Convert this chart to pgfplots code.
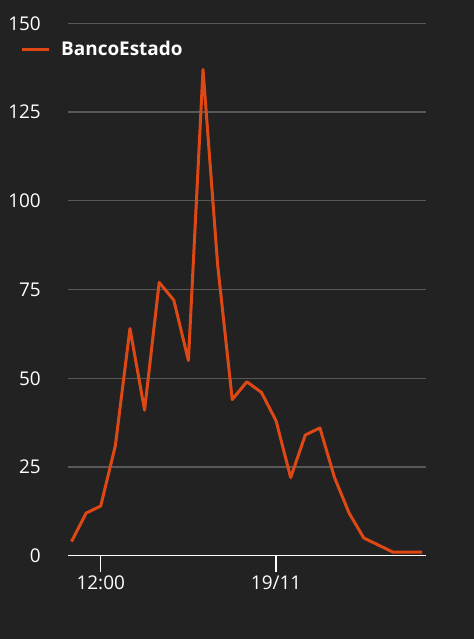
\documentclass[border=0pt]{standalone}
\usepackage{fontspec}
\setmainfont{Open Sans}
\usepackage{pgfplots}
\pgfplotsset{compat=1.18}

\definecolor{bgdark}{HTML}{222222}
\definecolor{gridgray}{HTML}{585858}
\definecolor{lineorange}{HTML}{DD4814}

\begin{document}
\begin{tikzpicture}
\fill[bgdark] (0bp,0bp) rectangle (474bp,639bp);
\useasboundingbox (0bp,0bp) rectangle (474bp,639bp);
\begin{axis}[
    at={(68.3bp,83.3bp)}, anchor=south west,
    scale only axis,
    width=357.4bp, height=532.4bp,
    xmin=-0.22, xmax=24.24,
    ymin=0, ymax=150,
    ytick={0,25,50,75,100,125,150},
    xtick={2,14},
    xticklabels={12:00,19/11},
    axis x line*=bottom,
    axis y line*=left,
    x axis line style={white, line width=1.6bp, -},
    y axis line style={draw=none},
    ymajorgrids,
    grid style={gridgray, line width=1.3bp},
    tick align=outside,
    major tick length=16bp,
    xtick style={white, line width=1.3bp},
    ytick style={draw=none},
    tick label style={font=\fontsize{19}{22}\selectfont, text=white},
    /pgf/number format/assume math mode=true,
    yticklabel style={anchor=east, xshift=-8bp},
    xticklabel style={anchor=north, yshift=-1bp},
    legend style={at={(axis description cs:0,1)}, anchor=west,
        xshift=-48.3bp, yshift=-26bp, draw=none, fill=none,
        inner sep=0pt, nodes={inner sep=0pt},
        font=\bfseries\fontsize{19}{22}\selectfont, text=white,
        legend cell align=left,
        /tikz/every odd column/.append style={column sep=11bp}},
    legend image code/.code={\draw[#1] (0bp,0bp) -- (27bp,0bp);},
    clip=false,
]
\addplot[lineorange, line width=3bp, line join=round] coordinates {
    (0,4) (1,12) (2,14) (3,31) (4,64) (5,41) (6,77) (7,72) (8,55)
    (9,137) (10,82) (11,44) (12,49) (13,46) (14,38) (15,22) (16,34)
    (17,36) (18,22) (19,12) (20,5) (21,3) (22,1) (23,1) (24,1)
};
\addlegendentry{BancoEstado}
\end{axis}
\end{tikzpicture}
\end{document}
